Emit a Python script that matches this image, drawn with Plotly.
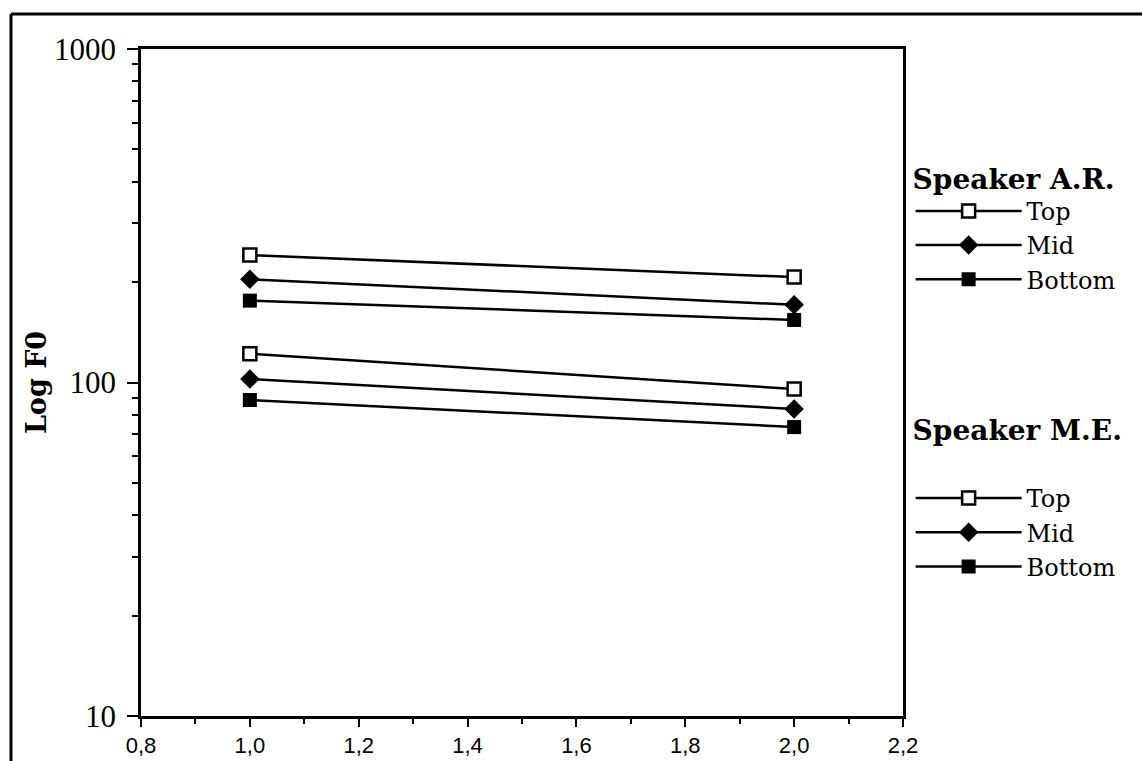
import plotly.graph_objects as go

# Measurement positions along the x axis
positions = [1.0, 2.0]

# F0 values (Hz) for speaker A.R.
ar_top = [241, 207]
ar_mid = [204, 171]
ar_bottom = [176, 154]

# F0 values (Hz) for speaker M.E.
me_top = [122, 95.6]
me_mid = [102.4, 83.3]
me_bottom = [88.6, 73.5]

levels = ["Top", "Mid", "Bottom"]

# Minor tick positions on the logarithmic F0 axis (2..9 within each decade)
minor_log_ticks = [m * 10 ** k for k in (1, 2) for m in range(2, 10)]

SERIF = "DejaVu Serif"
SANS = "Liberation Sans, Arial, sans-serif"

marker_styles = {
    "Top": dict(symbol="square", size=13, color="white", line=dict(color="black", width=2.5)),
    "Mid": dict(symbol="diamond", size=15, color="black", line=dict(color="black", width=0)),
    "Bottom": dict(symbol="square", size=14, color="black", line=dict(color="black", width=0)),
}

fig = go.Figure()

for legend_id, series in (
    ("legend", [ar_top, ar_mid, ar_bottom]),
    ("legend2", [me_top, me_mid, me_bottom]),
):
    for name, values in zip(levels, series):
        fig.add_trace(go.Scatter(
            x=positions,
            y=values,
            mode="lines+markers",
            name=name,
            legend=legend_id,
            line=dict(color="black", width=2.5),
            marker=marker_styles[name],
        ))

legend_common = dict(
    xanchor="left",
    yanchor="top",
    bgcolor="rgba(0,0,0,0)",
    borderwidth=0,
    font=dict(family=SERIF, size=24, color="black"),
    itemwidth=106,
    tracegroupgap=0,
)
title_font = dict(family=SERIF, size=28, color="black")

fig.update_layout(
    width=1142,
    height=761,
    paper_bgcolor="white",
    plot_bgcolor="white",
    separators=",.",
    margin=dict(l=141, r=239, t=49, b=45),
    showlegend=True,
    legend=dict(
        x=1.01, y=0.845,
        title=dict(text="<b>Speaker A.R.</b>", font=title_font),
        **legend_common,
    ),
    legend2=dict(
        x=1.01, y=0.469,
        title=dict(text="<b>Speaker M.E.</b><br> ", font=title_font),
        **legend_common,
    ),
    xaxis=dict(
        range=[0.8, 2.2],
        tick0=0.8,
        dtick=0.2,
        tickformat=".1f",
        automargin=False,
        showgrid=False,
        zeroline=False,
        showline=True,
        linecolor="black",
        linewidth=2.5,
        mirror=True,
        ticks="outside",
        ticklen=8,
        tickwidth=2,
        tickcolor="black",
        ticklabelstandoff=0,
        tickfont=dict(family=SANS, size=22, color="black"),
        minor=dict(ticks="outside", dtick=0.1, ticklen=5, tickwidth=2, tickcolor="black"),
    ),
    yaxis=dict(
        type="log",
        range=[1, 3],
        dtick=1,
        automargin=False,
        showgrid=False,
        zeroline=False,
        showline=True,
        linecolor="black",
        linewidth=2.5,
        mirror=True,
        ticks="outside",
        ticklen=11,
        tickwidth=2,
        tickcolor="black",
        ticklabelstandoff=5,
        tickfont=dict(family="Liberation Serif, Times New Roman, serif", size=31, color="black"),
        minor=dict(ticks="outside", tickvals=minor_log_ticks, ticklen=6, tickwidth=2, tickcolor="black"),
        title=dict(
            text="<b>Log F0</b>",
            font=dict(family=SERIF, size=27, color="black"),
            standoff=0,
        ),
    ),
    shapes=[
        # Outer frame around the whole figure (open towards the right and bottom edges)
        dict(type="line", xref="paper", yref="paper",
             x0=(11 - 141) / 762, x1=(1160 - 141) / 762,
             y0=(716 - 14) / 667, y1=(716 - 14) / 667,
             line=dict(color="black", width=3)),
        dict(type="line", xref="paper", yref="paper",
             x0=(11 - 141) / 762, x1=(11 - 141) / 762,
             y0=(716 - 14) / 667, y1=(716 - 780) / 667,
             line=dict(color="black", width=3)),
    ],
)

fig.write_html("out.html")
